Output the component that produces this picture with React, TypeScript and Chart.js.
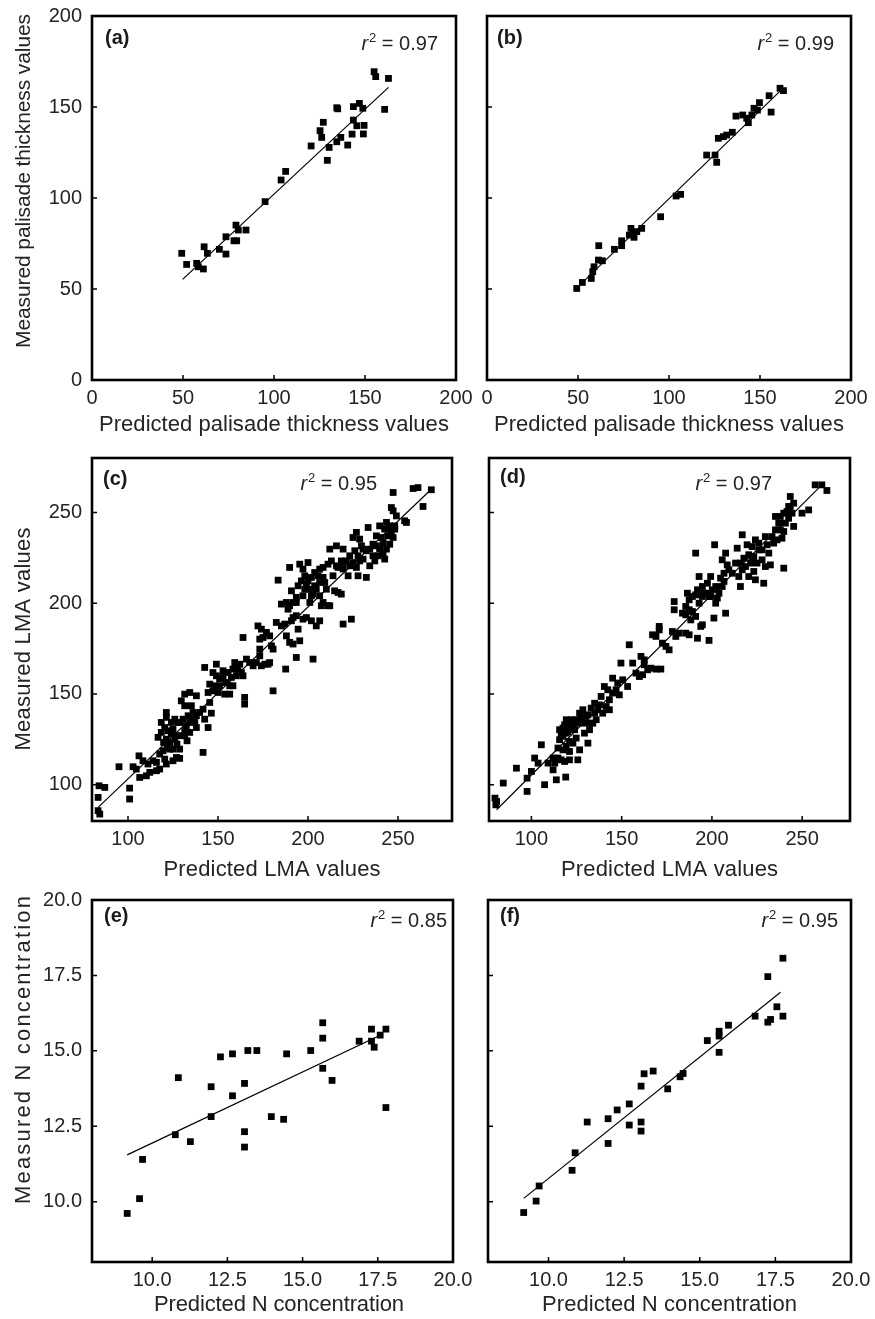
import React, { useEffect, useRef } from "react";
import { Chart, registerables } from "chart.js";

Chart.register(...registerables);

const FONT = '"Liberation Sans", Arial, Helvetica, sans-serif';
const TEXT = "#242424";

// ---------- tick labels ----------
const palisadeTicks = [0, 50, 100, 150, 200];
const lmaTicks = [100, 150, 200, 250];
const nTicks = [10, 12.5, 15, 17.5, 20];

// ---------- (a) palisade thickness, model 1 ----------
const aPredicted = [49.3, 52.0, 57.5, 58.4, 61.2, 61.6, 63.4, 70.0, 73.6, 73.6, 78.0, 79.1, 80.4, 84.6, 79.5, 95.1, 103.9, 106.4, 120.4, 125.3, 127.1, 126.2, 130.3, 129.3, 134.5, 135.0, 134.5, 136.7, 140.5, 142.9, 143.6, 143.6, 145.5, 146.9, 148.8, 149.1, 149.5, 155.0, 155.9, 160.8, 162.9];
const aMeasured = [69.6, 63.5, 64.1, 62.2, 61.0, 73.2, 69.6, 71.8, 69.2, 78.7, 76.5, 85.1, 82.4, 82.4, 76.5, 98.0, 109.9, 114.6, 128.6, 137.0, 141.6, 133.3, 127.8, 120.7, 149.6, 149.0, 130.9, 133.3, 129.1, 135.1, 142.8, 150.2, 139.7, 152.0, 149.3, 135.2, 139.9, 169.4, 166.7, 148.7, 165.7];
const aFitX = [49.8, 162.9];
const aFitY = [55.3, 160.8];

// ---------- (b) palisade thickness, model 2 ----------
const bPredicted = [49.3, 52.4, 57.3, 58.1, 58.8, 61.2, 63.4, 61.4, 70.0, 74.0, 74.0, 78.2, 79.1, 80.8, 82.3, 85.0, 95.4, 103.9, 106.4, 120.7, 125.3, 126.2, 127.1, 129.9, 131.7, 134.8, 136.8, 140.5, 142.7, 143.6, 145.5, 146.7, 148.6, 149.7, 155.0, 156.1, 161.0, 162.9, 80.4];
const bMeasured = [50.3, 53.6, 55.8, 59.5, 62.2, 65.9, 65.5, 73.8, 71.8, 73.8, 76.5, 79.6, 83.3, 78.4, 81.5, 83.3, 89.7, 101.1, 102.0, 123.6, 123.6, 119.6, 132.8, 133.7, 134.6, 136.1, 145.0, 145.6, 143.8, 141.4, 145.6, 149.3, 148.3, 152.4, 156.2, 147.2, 160.3, 159.0, 80.6];
const bFitX = [52.0, 162.0];
const bFitY = [53.1, 159.7];

// ---------- (c) LMA, model 1 ----------
const cPredicted = [
  83.9, 87.1, 83.4, 83.4, 84.3, 100.9, 100.9, 95.0, 102.8, 106.1, 108.3, 106.5, 110.2, 111.1, 113.9, 115.8, 117.6, 121.3, 125.0, 128.7, 104.6, 112.1,
  117.6, 119.5, 116.7, 118.5, 121.3, 123.2, 125.0, 126.9, 128.7, 128.7, 130.6, 132.4, 134.3, 134.3, 121.3, 121.3, 124.1, 126.0, 127.8, 129.6, 131.5, 123.2, 120.4,
  129.6, 131.5, 134.3, 138.0, 135.2, 138.0, 139.8, 141.7, 142.6, 138.0, 144.5, 141.7, 146.3, 145.4, 133.4, 136.1, 131.5,
  142.6, 149.1, 147.2, 145.4, 148.2, 150.9, 152.8, 154.6, 156.5, 153.7, 156.5, 158.3, 160.2, 162.1, 160.2, 163.9, 158.3, 159.3, 164.8, 164.8, 147.2, 180.6, 150.0, 144.5,
  163.9, 167.6, 169.5, 171.3, 174.1, 176.0, 177.8, 173.2, 173.2, 165.8, 163.0,
  172.2, 174.1, 175.0, 176.9, 173.2, 178.7, 179.7, 180.6, 182.4, 185.2, 187.1, 188.0, 189.8, 190.8, 191.7, 193.5, 194.5, 195.4, 197.2, 199.1, 189.8, 193.5, 202.8, 193.5, 187.6, 191.7, 201.9, 204.6, 206.5, 178.7,
  183.4, 185.2, 188.0, 189.8, 190.8, 193.5, 195.4, 197.2, 198.2, 199.1, 200.0, 201.0, 201.9, 202.8, 203.7, 204.6, 205.6, 206.5, 207.4, 208.4,
  209.3, 210.2, 211.1, 212.1, 206.5, 208.4, 211.1, 212.1, 213.0, 213.9, 215.8, 216.7, 218.5, 219.5, 219.5, 221.3, 222.3, 223.2, 225.0, 226.9,
  227.8, 228.7, 225.0, 226.9, 229.7, 230.6, 232.4, 234.3, 236.1, 237.1, 238.0, 238.9, 239.8, 241.7, 242.6, 240.8, 242.6, 245.4, 246.3, 247.3,
  248.2, 249.1, 247.3, 246.3, 248.2, 253.7, 254.7, 232.4, 219.5, 224.1, 218.5, 214.8, 215.8, 228.7, 233.4, 239.8, 243.6, 247.3, 258.4, 261.1,
  263.9, 268.5,
  118.5, 120.4, 122.2, 124.1, 126.0, 127.2, 119.8, 121.7, 125.0, 131.5, 132.8, 135.8, 137.1, 126.9, 115.8,
  194.5, 196.3, 198.2, 200.0, 201.9, 203.7, 206.5, 208.4, 201.0, 197.2, 191.7, 188.9,
  223.2, 226.0, 227.8, 230.6, 234.3, 236.1, 238.0, 241.7, 244.5, 245.4, 243.6, 219.5, 216.7,
  155.6, 157.4, 161.1, 152.8, 150.9, 149.1,
];
const cMeasured = [
  99.4, 98.5, 93.0, 85.7, 83.8, 98.1, 92.1, 109.9, 109.9, 115.9, 113.2, 104.0, 104.9, 111.4, 113.2, 107.7, 108.6, 111.4, 113.2, 114.5, 108.6, 106.8,
  116.9, 118.7, 126.1, 128.8, 125.1, 123.3, 130.6, 127.0, 119.6, 134.3, 136.1, 132.5, 128.8, 134.3, 139.8, 137.1, 134.3, 136.1, 134.3, 127.0, 127.0, 119.6, 114.1,
  146.2, 149.9, 150.8, 149.0, 143.5, 138.0, 139.8, 141.6, 136.1, 131.5, 131.5, 117.8, 139.4, 145.3, 138.0, 139.8, 143.5,
  164.6, 166.4, 161.8, 155.4, 154.5, 158.2, 159.1, 156.3, 154.5, 149.9, 149.9, 163.7, 165.5, 166.4, 160.0, 160.0, 154.5, 167.3, 148.1, 144.4, 151.7, 151.7, 150.8, 150.8,
  181.1, 167.3, 165.5, 167.3, 165.5, 166.4, 166.4, 171.0, 174.7, 169.2, 161.8,
  187.5, 185.7, 181.1, 183.9, 180.2, 182.0, 176.5, 174.7, 189.4, 187.5, 188.5, 182.0, 178.4, 190.3, 192.1, 193.1, 185.7, 179.3, 191.2, 192.1, 198.6, 200.4, 169.2, 170.1, 163.7, 177.5, 190.3, 187.5, 190.3, 167.3,
  212.7, 199.5, 200.4, 219.7, 206.8, 203.2, 221.5, 218.8, 215.1, 210.5, 222.4, 207.7, 204.1, 205.0, 209.6, 207.7, 215.1, 204.1, 198.6, 200.4,
  211.4, 207.7, 198.6, 198.6, 218.8, 219.7, 221.5, 229.8, 223.3, 215.1, 220.6, 205.9, 223.3, 229.8, 218.8, 223.3, 215.1, 220.6, 222.4, 219.7,
  215.1, 223.3, 236.2, 239.0, 231.6, 229.8, 228.9, 220.6, 226.1, 223.3, 231.6, 226.1, 229.8, 227.0, 224.3, 236.2, 240.8, 242.6, 239.0, 236.2,
  240.8, 248.1, 250.9, 252.7, 242.6, 245.4, 244.5, 214.2, 188.5, 191.2, 205.0, 206.8, 231.6, 235.3, 241.7, 242.6, 244.5, 261.0, 263.2, 263.7,
  253.3, 262.5,
  134.3, 131.5, 129.7, 127.9, 125.1, 122.4, 123.3, 120.5, 119.6, 129.7, 124.2, 136.1, 134.3, 115.0, 112.3,
  209.6, 212.3, 207.7, 212.3, 214.2, 216.9, 211.4, 214.2, 200.4, 204.1, 200.4, 196.7,
  226.1, 228.9, 226.1, 224.3, 229.8, 232.5, 237.1, 233.4, 237.1, 232.5, 229.8, 222.4, 219.7,
  161.8, 159.1, 162.8, 162.8, 154.5, 160.0,
];
const cFitX = [83.4, 268.5];
const cFitY = [87.5, 262.8];

// ---------- (d) LMA, model 2 ----------
const dPredicted = [
  79.8, 80.7, 80.3, 84.4, 91.7, 97.6, 97.6, 100.0, 101.8, 105.5, 103.7, 107.3, 109.2, 112.0, 112.0, 113.8, 114.7, 116.5, 118.4, 119.0,
  114.7, 115.6, 116.5, 117.5, 118.4, 119.3, 120.2, 121.1, 119.3, 121.1, 123.0, 124.8, 126.7, 125.7, 123.0, 124.8, 126.7, 128.5, 130.3, 132.2,
  134.0, 135.9, 131.3, 129.4, 132.2, 133.1, 135.0, 137.7, 139.5, 138.6, 140.4, 142.3, 143.2, 145.0, 146.9, 148.7, 143.2, 141.4, 145.0, 147.8,
  150.6, 153.3, 149.6, 154.2, 156.1, 157.9, 159.8, 161.6, 160.7, 162.5, 164.4, 166.2, 169.0, 171.7, 162.5, 167.1, 169.0, 170.8, 172.6, 174.5,
  176.3, 178.1, 180.0, 181.8, 185.5, 187.4, 192.0, 198.4, 170.8, 179.1, 179.1, 183.7, 185.5, 186.4, 187.4, 188.3, 189.2, 191.0, 192.9, 193.8,
  194.7, 192.9, 194.7, 196.5, 198.4, 200.2, 201.1, 202.1, 203.0, 203.9, 205.7, 206.7, 207.6, 194.7, 191.0, 199.3, 201.5, 191.0, 205.7, 207.6,
  209.4, 211.3, 213.1, 214.0, 214.9, 215.8, 216.8, 218.6, 220.4, 221.4, 223.2, 224.1, 223.2, 226.0, 227.8, 229.6, 224.1, 228.7, 232.4, 239.8,
  216.8, 219.5, 222.3, 226.0, 229.6, 233.3, 236.1, 238.8, 237.9, 239.8, 237.0, 235.2, 237.9, 239.8, 241.6, 242.5, 243.4, 244.4, 245.3, 243.4,
  249.9, 253.6, 257.2, 260.9, 263.7,
  115.6, 117.5, 119.3, 121.1, 122.1, 123.9, 125.7, 127.6, 117.5, 121.1, 112.9, 129.4, 131.3, 135.0, 136.8,
  189.2, 192.0, 195.6, 197.5, 199.3, 202.1, 204.8, 206.7, 208.5, 187.4, 185.5,
  215.8, 217.7, 220.4, 222.3, 225.0, 227.8, 230.6, 231.5, 234.2, 235.2, 240.7, 242.5, 245.3,
];
const dMeasured = [
  92.6, 90.8, 88.9, 100.9, 109.1, 103.6, 96.3, 107.3, 114.7, 122.0, 111.9, 100.0, 111.9, 114.7, 108.2, 102.7, 114.7, 113.7, 112.8, 104.2,
  120.2, 124.8, 127.5, 131.2, 133.0, 135.8, 129.3, 123.8, 121.1, 118.3, 122.9, 125.7, 119.2, 113.7, 133.0, 135.8, 139.4, 141.3, 137.6, 133.9,
  133.9, 135.8, 122.9, 128.4, 130.3, 142.2, 144.9, 144.0, 139.4, 148.6, 154.1, 152.3, 146.8, 150.5, 152.3, 149.5, 141.3, 143.1, 158.7, 156.0,
  157.8, 154.1, 167.0, 177.1, 167.0, 161.5, 159.6, 160.6, 170.7, 166.1, 163.3, 164.2, 163.7, 163.7, 168.8, 182.6, 181.7, 185.3, 178.0, 176.2,
  174.3, 184.4, 181.7, 183.5, 183.5, 182.6, 180.7, 179.5, 187.2, 200.9, 196.4, 194.5, 198.2, 205.5, 201.9, 190.8, 195.4, 192.7, 200.0, 187.2,
  188.1, 214.7, 209.2, 205.5, 203.7, 207.4, 191.8, 200.0, 202.8, 205.5, 209.2, 212.0, 194.5, 203.7, 204.6, 214.7, 232.2, 227.6, 223.9, 227.6,
  218.4, 216.5, 222.1, 230.3, 214.7, 209.2, 218.4, 220.2, 214.7, 222.1, 217.5, 234.9, 225.7, 229.4, 223.9, 220.2, 212.9, 211.0, 221.1, 219.3,
  237.7, 232.2, 231.2, 233.1, 236.7, 236.7, 234.9, 235.8, 240.4, 239.5, 244.1, 247.8, 247.8, 249.6, 250.5, 246.8, 253.3, 249.6, 242.3, 258.8,
  249.6, 251.4, 265.2, 265.2, 262.1,
  130.3, 126.6, 128.4, 132.1, 135.8, 130.3, 133.9, 136.7, 119.2, 113.7, 111.9, 133.9, 138.5, 139.4, 141.3,
  203.7, 207.4, 205.5, 211.0, 203.7, 209.2, 213.8, 216.5, 221.1, 196.4, 193.6,
  222.1, 224.8, 226.7, 223.0, 222.1, 229.4, 232.2, 227.6, 233.1, 240.4, 244.1, 253.3, 255.1,
];
const dFitX = [80.7, 260.9];
const dFitY = [86.2, 265.2];

// ---------- (e) N concentration, model 1 ----------
const ePredicted = [9.17, 9.58, 9.68, 10.77, 10.87, 11.27, 11.96, 11.96, 12.27, 12.67, 12.67, 13.07, 13.07, 13.07, 13.18, 13.48, 13.96, 14.37, 14.47, 15.27, 15.67, 15.67, 15.67, 15.98, 16.88, 17.29, 17.29, 17.38, 17.58, 17.77, 17.77];
const eMeasured = [9.61, 10.10, 11.40, 12.22, 14.11, 11.99, 12.82, 13.81, 14.80, 14.90, 13.51, 13.92, 12.32, 11.81, 15.01, 15.01, 12.82, 12.73, 14.90, 15.01, 15.93, 15.42, 14.42, 14.02, 15.32, 15.72, 15.32, 15.12, 15.52, 15.72, 13.12];
const eFitX = [9.17, 17.67];
const eFitY = [11.55, 15.56];

// ---------- (f) N concentration, model 2 ----------
const fPredicted = [9.18, 9.59, 9.69, 10.78, 10.88, 11.28, 11.97, 11.97, 12.27, 12.67, 12.67, 13.06, 13.06, 13.06, 13.16, 13.46, 13.94, 14.35, 14.45, 15.25, 15.64, 15.64, 15.64, 15.95, 16.83, 17.25, 17.34, 17.55, 17.75, 17.25, 17.75];
const fMeasured = [9.64, 10.02, 10.52, 11.04, 11.62, 12.64, 11.93, 12.75, 13.04, 13.24, 12.54, 13.83, 12.64, 12.34, 14.24, 14.33, 13.74, 14.14, 14.25, 15.34, 15.65, 15.49, 14.95, 15.85, 16.15, 15.95, 16.04, 16.46, 16.15, 17.46, 18.07];
const fFitX = [9.18, 17.67];
const fFitY = [10.11, 16.94];

type Box = { left: number; top: number; right: number; bottom: number };
type TitleSpec = { size: number; len: number; cx?: number; cy: number };
type PanelSpec = {
  tag: string;
  r2: string;
  px: number[];
  py: number[];
  fx: number[];
  fy: number[];
  xMin: number;
  xMax: number;
  yMin: number;
  yMax: number;
  xTicks: number[];
  yTicks: number[];
  dec: number;
  xTitle: string;
  yTitle: string | null;
  canvas: Box;
  area: Box;
  tagDx: number;
  tagDy: number;
  r2Dx: number;
  r2Dy: number;
  xT: TitleSpec;
  yT: TitleSpec | null;
};

const panels: PanelSpec[] = [
  {
    tag: "(a)", r2: "0.97", px: aPredicted, py: aMeasured, fx: aFitX, fy: aFitY,
    xMin: 0, xMax: 200, yMin: 0, yMax: 200, xTicks: palisadeTicks, yTicks: palisadeTicks, dec: 0,
    xTitle: "Predicted palisade thickness values", yTitle: "Measured palisade thickness values",
    canvas: { left: 0, top: 0, right: 480, bottom: 440 },
    area: { left: 92, top: 16, right: 456, bottom: 380 },
    tagDx: 13, tagDy: 28, r2Dx: 346, r2Dy: 34,
    xT: { size: 22, len: 350, cy: 425 }, yT: { size: 21, len: 334, cx: 24, cy: 181 },
  },
  {
    tag: "(b)", r2: "0.99", px: bPredicted, py: bMeasured, fx: bFitX, fy: bFitY,
    xMin: 0, xMax: 200, yMin: 0, yMax: 200, xTicks: palisadeTicks, yTicks: palisadeTicks, dec: 0,
    xTitle: "Predicted palisade thickness values", yTitle: null,
    canvas: { left: 470, top: 0, right: 875, bottom: 440 },
    area: { left: 487, top: 16, right: 851, bottom: 380 },
    tagDx: 10, tagDy: 28, r2Dx: 347, r2Dy: 34,
    xT: { size: 22, len: 350, cy: 425 }, yT: null,
  },
  {
    tag: "(c)", r2: "0.95", px: cPredicted, py: cMeasured, fx: cFitX, fy: cFitY,
    xMin: 80, xMax: 280, yMin: 80, yMax: 280, xTicks: lmaTicks, yTicks: lmaTicks, dec: 0,
    xTitle: "Predicted LMA values", yTitle: "Measured LMA values",
    canvas: { left: 0, top: 440, right: 480, bottom: 880 },
    area: { left: 92, top: 458, right: 452, bottom: 821 },
    tagDx: 11, tagDy: 27, r2Dx: 285, r2Dy: 32,
    xT: { size: 22, len: 217, cy: 870 }, yT: { size: 22, len: 223, cx: 24, cy: 639 },
  },
  {
    tag: "(d)", r2: "0.97", px: dPredicted, py: dMeasured, fx: dFitX, fy: dFitY,
    xMin: 76.5, xMax: 276.5, yMin: 80, yMax: 280, xTicks: lmaTicks, yTicks: lmaTicks, dec: 0,
    xTitle: "Predicted LMA values", yTitle: null,
    canvas: { left: 470, top: 440, right: 875, bottom: 880 },
    area: { left: 489, top: 458, right: 850, bottom: 821 },
    tagDx: 11, tagDy: 25, r2Dx: 283, r2Dy: 32,
    xT: { size: 22, len: 217, cy: 870 }, yT: null,
  },
  {
    tag: "(e)", r2: "0.85", px: ePredicted, py: eMeasured, fx: eFitX, fy: eFitY,
    xMin: 8, xMax: 20, yMin: 8, yMax: 20, xTicks: nTicks, yTicks: nTicks, dec: 1,
    xTitle: "Predicted N concentration", yTitle: "Measured N concentration",
    canvas: { left: 0, top: 880, right: 480, bottom: 1319 },
    area: { left: 92, top: 900, right: 453, bottom: 1262 },
    tagDx: 12, tagDy: 22, r2Dx: 355, r2Dy: 27,
    xT: { size: 22, len: 250, cx: 279, cy: 1305 }, yT: { size: 22, len: 308, cx: 24, cy: 1050 },
  },
  {
    tag: "(f)", r2: "0.95", px: fPredicted, py: fMeasured, fx: fFitX, fy: fFitY,
    xMin: 8, xMax: 20, yMin: 8, yMax: 20, xTicks: nTicks, yTicks: nTicks, dec: 1,
    xTitle: "Predicted N concentration", yTitle: null,
    canvas: { left: 470, top: 880, right: 875, bottom: 1319 },
    area: { left: 488, top: 900, right: 851, bottom: 1262 },
    tagDx: 12, tagDy: 22, r2Dx: 350, r2Dy: 27,
    xT: { size: 22, len: 255, cy: 1305 }, yT: null,
  },
];

function drawTitle(ctx: any, text: string, cx: number, cy: number, size: number, len: number, vertical: boolean) {
  ctx.save();
  ctx.font = `${size}px ${FONT}`;
  try { ctx.letterSpacing = "0px"; } catch (e) {}
  const natural = ctx.measureText(text).width;
  const ls = (len - natural) / Math.max(1, text.length - 1);
  let used = natural;
  if ("letterSpacing" in ctx) {
    ctx.letterSpacing = `${ls.toFixed(2)}px`;
    used = len;
  }
  ctx.fillStyle = TEXT;
  ctx.textAlign = "left";
  ctx.textBaseline = "middle";
  ctx.translate(cx, cy);
  if (vertical) ctx.rotate(-Math.PI / 2);
  ctx.fillText(text, -used / 2, 0);
  ctx.restore();
}

function PanelChart({ p }: { p: PanelSpec }) {
  const ref = useRef<HTMLCanvasElement | null>(null);
  const cw = p.canvas.right - p.canvas.left;
  const ch = p.canvas.bottom - p.canvas.top;

  useEffect(() => {
    const canvas = ref.current;
    if (!canvas) return;
    const yAxisW = p.area.left - p.canvas.left;
    const xAxisH = p.canvas.bottom - p.area.bottom;
    const tickFont = { family: FONT, size: 20 };

    const framePlugin = {
      id: "frame" + p.tag.replace(/\W/g, ""),
      afterDatasetsDraw(chart: any) {
        const { ctx, chartArea: a, scales } = chart;
        ctx.save();
        ctx.strokeStyle = "#000";
        ctx.lineWidth = 1.5;
        ctx.beginPath();
        for (const t of scales.x.ticks) {
          const x = scales.x.getPixelForValue(t.value);
          ctx.moveTo(x, a.bottom);
          ctx.lineTo(x, a.bottom - 5);
        }
        for (const t of scales.y.ticks) {
          const y = scales.y.getPixelForValue(t.value);
          ctx.moveTo(a.left, y);
          ctx.lineTo(a.left + 5, y);
        }
        ctx.stroke();
        ctx.lineWidth = 2.6;
        ctx.strokeRect(a.left, a.top, a.right - a.left, a.bottom - a.top);

        // panel tag
        ctx.fillStyle = "#1a1a1a";
        ctx.textAlign = "left";
        ctx.textBaseline = "alphabetic";
        ctx.font = `bold 20px ${FONT}`;
        ctx.fillText(p.tag, a.left + p.tagDx, a.top + p.tagDy);

        // r^2 label
        const fs = 20;
        const base = `${fs}px ${FONT}`;
        const ital = `italic ${fs}px ${FONT}`;
        const sup = `13px ${FONT}`;
        const rest = " = " + p.r2;
        ctx.font = base;
        const wRest = ctx.measureText(rest).width;
        ctx.font = ital;
        const wR = ctx.measureText("r").width;
        ctx.font = sup;
        const wS = ctx.measureText("2").width;
        let x = a.left + p.r2Dx - (wR + 1 + wS + wRest);
        const by = a.top + p.r2Dy;
        ctx.fillStyle = TEXT;
        ctx.font = ital;
        ctx.fillText("r", x, by);
        x += wR + 1;
        ctx.font = sup;
        ctx.fillText("2", x, by - 8);
        x += wS;
        ctx.font = base;
        ctx.fillText(rest, x, by);
        ctx.restore();

        // axis titles (page coords -> canvas coords)
        const ox = p.canvas.left;
        const oy = p.canvas.top;
        const xcx = p.xT.cx !== undefined ? p.xT.cx - ox : (a.left + a.right) / 2;
        drawTitle(ctx, p.xTitle, xcx, p.xT.cy - oy, p.xT.size, p.xT.len, false);
        if (p.yTitle && p.yT) {
          drawTitle(ctx, p.yTitle, (p.yT.cx || 24) - ox, p.yT.cy - oy, p.yT.size, p.yT.len, true);
        }
      },
    };

    const chart = new Chart(canvas, {
      type: "scatter",
      data: {
        datasets: [
          {
            type: "scatter",
            data: p.px.map((v, i) => ({ x: v, y: p.py[i] })),
            pointStyle: "rect",
            pointRadius: 4.8,
            backgroundColor: "#000",
            borderColor: "#000",
            borderWidth: 0,
            clip: false,
          },
          {
            type: "line",
            data: p.fx.map((v, i) => ({ x: v, y: p.fy[i] })),
            borderColor: "#000",
            borderWidth: 1.2,
            pointRadius: 0,
            fill: false,
            tension: 0,
          },
        ],
      } as any,
      options: {
        responsive: false,
        animation: false,
        devicePixelRatio: 1,
        events: [],
        layout: {
          padding: {
            left: 0,
            top: p.area.top - p.canvas.top,
            right: p.canvas.right - p.area.right,
            bottom: 0,
          },
        },
        plugins: {
          legend: { display: false },
          tooltip: { enabled: false },
        },
        scales: {
          x: {
            type: "linear",
            min: p.xMin,
            max: p.xMax,
            afterBuildTicks: (s: any) => {
              s.ticks = p.xTicks.map((v) => ({ value: v }));
            },
            afterFit: (s: any) => {
              s.height = xAxisH;
              s.paddingLeft = 0;
              s.paddingRight = 0;
            },
            grid: { display: false, drawTicks: false },
            border: { display: false },
            ticks: {
              autoSkip: false,
              maxRotation: 0,
              padding: 6,
              color: TEXT,
              font: tickFont,
              callback: (v: any) => Number(v).toFixed(p.dec),
            },
            title: { display: false },
          },
          y: {
            type: "linear",
            min: p.yMin,
            max: p.yMax,
            afterBuildTicks: (s: any) => {
              s.ticks = p.yTicks.map((v) => ({ value: v }));
            },
            afterFit: (s: any) => {
              s.width = yAxisW;
              s.paddingTop = 0;
              s.paddingBottom = 0;
            },
            grid: { display: false, drawTicks: false },
            border: { display: false },
            ticks: {
              display: p.yTitle !== null,
              autoSkip: false,
              padding: 10,
              color: TEXT,
              font: tickFont,
              callback: (v: any) => Number(v).toFixed(p.dec),
            },
            title: { display: false },
          },
        },
      } as any,
      plugins: [framePlugin],
    });
    return () => chart.destroy();
  }, [p]);

  return (
    <canvas
      ref={ref}
      width={cw}
      height={ch}
      style={{ position: "absolute", left: p.canvas.left, top: p.canvas.top, width: cw, height: ch }}
    />
  );
}

export default function App() {
  return (
    <div style={{ position: "absolute", left: 0, top: 0, width: 875, height: 1319, background: "#fff" }}>
      {panels.map((p) => (
        <PanelChart key={p.tag} p={p} />
      ))}
    </div>
  );
}
